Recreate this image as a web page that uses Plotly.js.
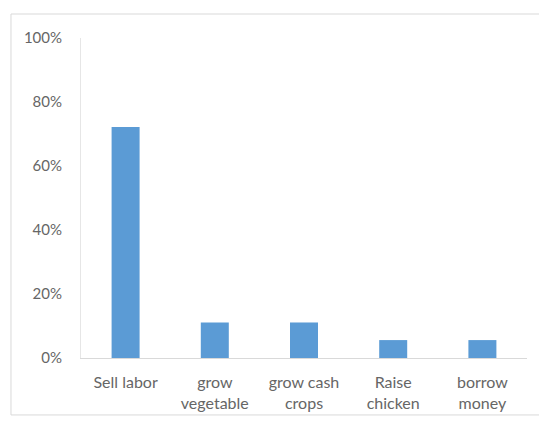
<!DOCTYPE html>
<html>
<head>
<meta charset="utf-8">
<script src="https://cdn.plot.ly/plotly-3.0.1.min.js"></script>
<style>html,body{margin:0;padding:0;background:#fff}#chart{width:539px;height:421px}</style>
</head>
<body>
<div id="chart"></div>
<script>
var categories = ["Sell labor", "grow vegetable", "grow cash crops", "Raise chicken", "borrow money"];
var tickLabels = ["Sell labor", "grow<br>vegetable", "grow cash<br>crops", "Raise<br>chicken", "borrow<br>money"];
var shares = [0.722, 0.111, 0.111, 0.056, 0.056];
var yTickVals = [0, 0.2, 0.4, 0.6, 0.8, 1.0];
var yTickText = ["0%", "20%", "40%", "60%", "80%", "100%"];

var trace = {
  type: "bar",
  x: categories,
  y: shares,
  marker: {color: "#5b9bd5"},
  hoverinfo: "none"
};

var layout = {
  width: 539, height: 421,
  margin: {l: 81, r: 12, t: 38, b: 63},
  paper_bgcolor: "#ffffff",
  plot_bgcolor: "#ffffff",
  bargap: 0.686,
  showlegend: false,
  font: {family: "Lato, 'Open Sans', sans-serif", color: "#666666", size: 15},
  xaxis: {
    tickvals: categories,
    ticktext: tickLabels,
    showline: true, linecolor: "#d9d9d9", linewidth: 1,
    showgrid: false, zeroline: false, ticks: "",
    ticklabelstandoff: 10,
    tickfont: {size: 16, color: "#666666"}
  },
  yaxis: {
    range: [0, 1],
    tickvals: yTickVals,
    ticktext: yTickText,
    showline: true, linecolor: "#e6e6e6", linewidth: 1,
    showgrid: false, zeroline: false, ticks: "",
    ticklabelstandoff: 15,
    tickfont: {size: 15, color: "#666666"}
  },
  shapes: [{
    type: "rect", xref: "paper", yref: "paper",
    x0: -0.157, x1: 1.05, y0: -0.178, y1: 1.075,
    line: {color: "#d9d9d9", width: 1},
    layer: "below"
  }]
};

Plotly.newPlot("chart", [trace], layout, {staticPlot: true, displayModeBar: false});
</script>
</body>
</html>
